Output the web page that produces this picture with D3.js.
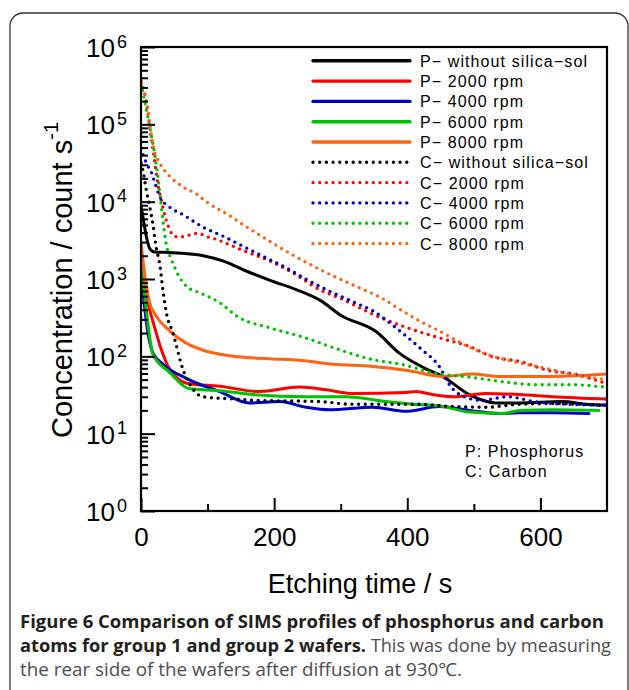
<!DOCTYPE html>
<html>
<head>
<meta charset="utf-8">
<script src="https://cdnjs.cloudflare.com/ajax/libs/d3/7.8.5/d3.min.js"></script>
<style>
body{margin:0;background:#fff;}
svg{display:block;}
.sans{font-family:"Liberation Sans",Arial,sans-serif;fill:#000;}
.cap{font-family:"Open Sans","Noto Sans",sans-serif;}
</style>
</head>
<body>
<div id="chart"></div>
<script>
// etching time (s), concentration (count/s)
var pNone = [[0,8900],[3,6300],[8,3550],[14,2400],[20,2240],[48,2190],[88,2040],[124,1700],[159,1260],[195,955],[234,725],[270,525],[300,340],[353,209],[388,110],[428,69],[453,55],[493,32],[533,25],[568,25],[633,26],[668,24],[700,23.4]];
var p2000 = [[0,1260],[5,800],[10,500],[18,280],[30,126],[40,76],[55,52],[68,45],[118,41],[178,35],[238,40],[278,37],[318,33],[398,34],[413,35],[438,32],[468,30],[518,33],[568,32],[618,30],[700,28]];
var p4000 = [[0,1070],[4,560],[8,280],[18,110],[33,79],[68,52],[118,35],[163,25],[208,26],[248,22],[283,20.4],[348,22],[398,19.5],[448,22.4],[493,20],[538,18.2],[568,18.6],[618,18.6],[673,18.2]];
var p6000 = [[0,1780],[4,800],[8,400],[18,105],[43,62],[73,38],[118,36],[168,32],[248,30],[308,30],[368,26],[408,24],[448,23],[493,19],[543,18.2],[568,20],[618,20.4],[688,20]];
var p8000 = [[0,3000],[5,1260],[13,490],[23,330],[43,214],[68,148],[93,120],[133,102],[193,93],[238,89],[288,79],[348,74],[403,65],[453,55],[498,59],[538,55],[618,55],[700,59]];
var cNone = [[0,31600],[3,25000],[8,14100],[13,8700],[18,5000],[23,2500],[28,1580],[33,710],[38,370],[48,200],[63,68],[76,40],[93,30],[143,28],[168,27],[268,26],[318,24],[418,24],[468,22.4],[518,22],[568,24],[618,24.5],[700,23]];
var c2000 = [[0,355000],[5,263000],[10,148000],[13,93000],[18,47000],[26,15800],[31,10000],[36,6500],[41,4800],[48,3700],[56,3470],[73,3700],[86,3900],[98,3550],[114,3240],[134,2750],[159,2240],[189,1780],[224,1260],[269,725],[300,560],[330,417],[360,316],[410,219],[460,162],[490,138],[526,100],[571,85],[611,66],[651,59],[697,45]];
var c4000 = [[0,49000],[8,31600],[16,23400],[21,17400],[28,11700],[43,8500],[63,6800],[93,4700],[124,3550],[154,2630],[184,1950],[219,1380],[249,980],[279,725],[320,500],[350,380],[368,295],[390,209],[420,126],[448,74],[465,41],[486,30],[511,27],[551,30],[591,26],[641,24],[698,23.4]];
var c6000 = [[0,331000],[6,190000],[11,115000],[16,69000],[21,39000],[26,19000],[30,9500],[33,5600],[38,2800],[46,1780],[56,1120],[68,810],[91,650],[119,490],[144,330],[193,234],[243,178],[293,126],[343,93],[393,78],[443,60],[493,54],[543,47],[593,43],[643,43],[698,40]];
var c8000 = [[0,363000],[6,229000],[11,148000],[13,105000],[16,69000],[21,43000],[28,31600],[43,21400],[63,15500],[83,12600],[98,10000],[134,6500],[154,5000],[174,3900],[224,2140],[274,1260],[325,790],[360,575],[390,400],[420,282],[450,209],[486,141],[521,105],[561,85],[611,69],[641,60],[681,52],[700,50]];

var seriesLabels = ["P\u2212 without silica\u2212sol","P\u2212 2000 rpm","P\u2212 4000 rpm","P\u2212 6000 rpm","P\u2212 8000 rpm",
                    "C\u2212 without silica\u2212sol","C\u2212 2000 rpm","C\u2212 4000 rpm","C\u2212 6000 rpm","C\u2212 8000 rpm"];
var seriesData = [pNone,p2000,p4000,p6000,p8000,cNone,c2000,c4000,c6000,c8000];
var xTicks = [0,200,400,600];
var xMinor = [100,300,500];
var yExponents = [0,1,2,3,4,5,6];

var colors = ["#000000","#ff0000","#0000c8","#00c400","#ff6414"];

var W = 629, H = 690;
var plotL = 141, plotR = 607, plotT = 47, plotB = 511;

var svg = d3.select("#chart").append("svg")
    .attr("width",W).attr("height",H);

// panel frame
svg.append("rect")
    .attr("x",10).attr("y",13).attr("width",618).attr("height",720)
    .attr("rx",13)
    .attr("fill","none").attr("stroke","#333").attr("stroke-width",1.3);

var x = d3.scaleLinear().domain([0,700]).range([plotL,plotR]);
var y = d3.scaleLog().domain([1,1e6]).range([plotB,plotT]);

svg.append("clipPath").attr("id","plot-clip")
    .append("rect").attr("x",plotL).attr("y",plotT).attr("width",plotR-plotL).attr("height",plotB-plotT);

// curves
var lineFunction = d3.line()
    .x(function(d){ return x(d[0]); })
    .y(function(d){ return y(d[1]); })
    .curve(d3.curveMonotoneX);

var curveG = svg.append("g").attr("clip-path","url(#plot-clip)");
seriesData.forEach(function(s,i){
    var dotted = i >= 5;
    curveG.append("path")
        .attr("d",lineFunction(s))
        .attr("fill","none")
        .attr("stroke",colors[i%5])
        .attr("stroke-width",dotted ? 3.4 : 3)
        .attr("stroke-linecap","round")
        .attr("stroke-linejoin","round")
        .attr("stroke-dasharray",dotted ? "0,6.7" : null);
});

// y axis ticks
var yMinor = [];
for (var e = 0; e < 6; e++) {
    for (var k = 2; k <= 9; k++) yMinor.push(k*Math.pow(10,e));
}
var yMajorVals = yExponents.map(function(p){ return Math.pow(10,p); });

svg.append("g").attr("transform","translate("+plotL+",0)")
    .call(d3.axisLeft(y).tickValues(yMinor).tickSizeInner(-7).tickSizeOuter(0).tickFormat(""))
    .call(function(g){ g.select(".domain").remove(); g.selectAll("line").attr("stroke-width",2); });

var yAx = svg.append("g").attr("transform","translate("+plotL+",0)")
    .call(d3.axisLeft(y).tickValues(yMajorVals).tickSizeInner(-14).tickSizeOuter(0).tickFormat(""))
    .call(function(g){ g.select(".domain").remove(); g.selectAll("line").attr("stroke-width",2); });

yAx.selectAll(".tick").each(function(d,i){
    var t = d3.select(this);
    t.append("text").attr("class","sans")
        .attr("x",115-plotL).attr("y",9.5)
        .attr("text-anchor","end")
        .attr("font-size",26)
        .text("10");
    t.append("text").attr("class","sans")
        .attr("x",117-plotL).attr("y",0)
        .attr("text-anchor","start")
        .attr("font-size",18)
        .text(yExponents[i]);
});

// x axis ticks
svg.append("g").attr("transform","translate(0,"+plotB+")")
    .call(d3.axisBottom(x).tickValues(xMinor).tickSizeInner(-7).tickSizeOuter(0).tickFormat(""))
    .call(function(g){ g.select(".domain").remove(); g.selectAll("line").attr("stroke-width",2); });

svg.append("g").attr("transform","translate(0,"+plotB+")")
    .call(d3.axisBottom(x).tickValues(xTicks).tickSizeInner(-13).tickSizeOuter(0).tickPadding(17))
    .call(function(g){
        g.select(".domain").remove();
        g.selectAll("line").attr("stroke-width",2);
        g.selectAll("text").attr("class","sans").attr("font-size",26).attr("fill","#000");
    });

// frame
svg.append("rect")
    .attr("x",plotL).attr("y",plotT).attr("width",plotR-plotL).attr("height",plotB-plotT)
    .attr("fill","none").attr("stroke","#000").attr("stroke-width",2.2);

// legend
var legend = svg.append("g");
seriesLabels.forEach(function(lab,i){
    var cy = 60.8 + i*20.3;
    var dotted = i >= 5;
    legend.append("line")
        .attr("x1",313).attr("x2",410).attr("y1",cy).attr("y2",cy)
        .attr("stroke",colors[i%5])
        .attr("stroke-width",3.4)
        .attr("stroke-linecap","round")
        .attr("stroke-dasharray",dotted ? "0,6.7" : null);
    legend.append("text").attr("class","sans")
        .attr("x",420).attr("y",cy+6)
        .attr("font-size",16).attr("letter-spacing",1.1)
        .text(lab);
});

svg.append("text").attr("class","sans")
    .attr("x",465).attr("y",457).attr("font-size",16).attr("letter-spacing",1.1)
    .text("P: Phosphorus");
svg.append("text").attr("class","sans")
    .attr("x",465).attr("y",477).attr("font-size",16).attr("letter-spacing",1.1)
    .text("C: Carbon");

// axis titles
svg.append("text").attr("class","sans")
    .attr("x",360).attr("y",593).attr("text-anchor","middle").attr("font-size",27)
    .text("Etching time / s");

var yt = svg.append("text").attr("class","sans")
    .attr("transform","translate(72,438) rotate(-90)")
    .attr("font-size",29);
yt.append("tspan").text("Concentration / count s");
yt.append("tspan").attr("dy",-14).attr("font-size",20).text("-1");

// caption
var cap = svg.append("g").attr("class","cap").attr("font-size",18);
cap.append("text").attr("x",20).attr("y",628)
    .attr("textLength",584).attr("lengthAdjust","spacingAndGlyphs")
    .attr("font-weight","bold").attr("fill","#231f20")
    .text("Figure 6 Comparison of SIMS profiles of phosphorus and carbon");
var l2 = cap.append("text").attr("x",20).attr("y",652)
    .attr("textLength",591).attr("lengthAdjust","spacingAndGlyphs");
l2.append("tspan").attr("font-weight","bold").attr("fill","#231f20").text("atoms for group 1 and group 2 wafers.");
l2.append("tspan").attr("fill","#4d4d4f").text(" This was done by measuring");
cap.append("text").attr("x",20).attr("y",676)
    .attr("textLength",442).attr("lengthAdjust","spacingAndGlyphs")
    .attr("fill","#4d4d4f")
    .text("the rear side of the wafers after diffusion at 930\u2103.");
</script>
</body>
</html>
